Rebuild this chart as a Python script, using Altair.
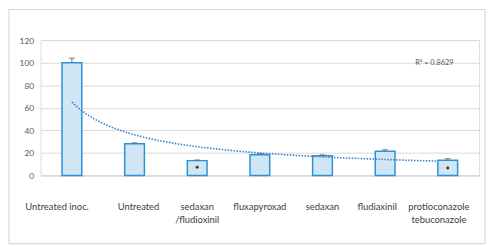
import altair as alt
import pandas as pd

categories = ["Untreated inoc.", "Untreated", "sedaxan|/fludioxinil", "fluxapyroxad",
              "sedaxan", "fludiaxinil", "protioconazole|tebuconazole"]
index = [1, 2, 3, 4, 5, 6, 7]
values = [100, 28, 13.1, 18.4, 17.5, 21.4, 13.5]
err_hi = [104, 28.9, 13.7, 19.4, 18.3, 22.8, 14.8]
sig_marks = [None, None, 7.3, None, None, None, 6.5]
y_ticks = [0, 20, 40, 60, 80, 100, 120]
r2_label = ["R² = 0.8629"]

df = pd.DataFrame({"cat": categories, "idx": index, "value": values,
                   "hi": err_hi, "sig": sig_marks})
order = categories

FONT = "Lato"
label_offset_expr = ("datum.value == 'Untreated inoc.' ? -15 : "
                     "datum.value == 'Untreated' ? 4 : "
                     "datum.value == 'fludiaxinil' ? -8 : "
                     "datum.value == 'protioconazole|tebuconazole' ? -9 : 0")
xaxis = alt.Axis(title=None, labelAngle=0, ticks=False, domain=True,
                 domainColor="#d9d9d9", domainWidth=1.2,
                 labelPadding=27, labelFontSize=9.5,
                 labelColor="#404040", labelFont=FONT,
                 labelExpr="split(datum.label, '|')",
                 labelOffset=alt.ExprRef(expr=label_offset_expr),
                 labelLineHeight=12.5, labelOverlap=False)
xscale = alt.Scale(paddingInner=0.685, paddingOuter=0.3425)
yscale = alt.Scale(domain=[0, 120], nice=False)
yaxis = alt.Axis(title=None, values=y_ticks, grid=True, labelOverlap=False,
                 gridColor="#d9d9d9", gridWidth=1, domain=False, ticks=False,
                 labelPadding=7, labelFontSize=8.5, labelColor="#595959",
                 labelFont=FONT)

def X():
    return alt.X("cat:N", sort=order, scale=xscale, axis=xaxis)

def Y(field):
    return alt.Y(field, type="quantitative", scale=yscale, axis=yaxis)

base = alt.Chart(df)
bars = base.mark_bar(fill="#d0e6f5", stroke="#2a93d5", strokeWidth=1.5).encode(
    x=X(), y=Y("value"))
errs = base.mark_rule(color="#6b6b6b", strokeWidth=1).encode(
    x=X(), y=Y("value"), y2="hi:Q")
caps = base.mark_tick(color="#6b6b6b", size=6, thickness=1.2, orient="horizontal").encode(
    x=X(), y=Y("hi"))
dots = base.transform_filter("datum.sig != null").mark_point(
    filled=True, size=9, color="#333333", opacity=1).encode(
    x=X(), y=Y("sig"))
border = alt.Chart(pd.DataFrame({"a": [0]})).mark_rect(
    fill=None, stroke="#d9d9d9", strokeWidth=1.2).encode(
    x=alt.value(-32), x2=alt.value(450), y=alt.value(-31), y2=alt.value(206))

main = alt.layer(border, bars, errs, caps, dots)

qscale = alt.Scale(domain=[0.5, 7.5], nice=False, zero=False)
trend = base.transform_regression("idx", "value", method="pow", extent=[1, 6.84]).mark_line(
    color="#3a7fcf", strokeWidth=1.6, strokeDash=[1.5, 1.5]).encode(
    x=alt.X("idx:Q", scale=qscale, axis=None), y=Y("value"))
r2 = alt.Chart(pd.DataFrame({"t": r2_label, "x": [6.48], "y": [100]})).mark_text(
    align="left", baseline="middle", fontSize=7.5, color="#595959", font=FONT).encode(
    x=alt.X("x:Q", scale=qscale, axis=None), y=Y("y"), text="t:N")
trend_layer = alt.layer(trend, r2)

chart = alt.layer(main, trend_layer).resolve_scale(x="independent").properties(
    width=444, height=137,
    autosize=alt.AutoSizeParams(type="none"),
    padding={"left": 33, "top": 31, "right": 7, "bottom": 70},
).configure_view(stroke=None).configure(background="white")

chart.save("out.html", embed_options={"renderer": "svg", "actions": False})
